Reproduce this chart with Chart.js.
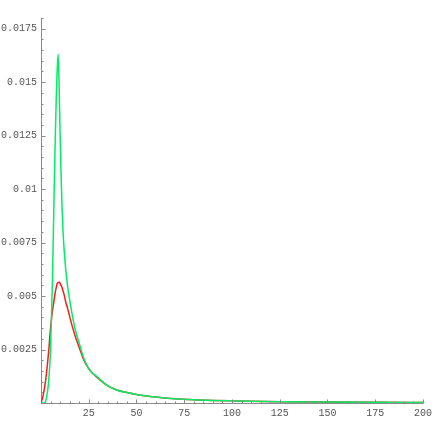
<!DOCTYPE html>
<html>
<head>
<meta charset="utf-8">
<script src="https://cdn.jsdelivr.net/npm/chart.js@4"></script>
<style>
  html, body { margin: 0; padding: 0; background: #fff; }
</style>
</head>
<body>
<canvas id="plot" width="436" height="436"></canvas>
<script>
// values
const xs = [0, 1, 2, 2.5, 3, 4, 5, 6, 6.5, 7, 7.5, 8, 8.5, 9, 9.5, 10, 10.5, 11, 11.5, 12, 13, 14, 16, 18, 20, 22, 25, 30, 35, 40, 45, 50, 60, 70, 80, 90, 100, 125, 150, 175, 200];
const greenY = [0, 0, 0.00002, 0.0001, 0.0003, 0.001, 0.0025, 0.0057, 0.0081, 0.0104, 0.0125, 0.0143, 0.0156, 0.0163, 0.0148, 0.0126, 0.0107, 0.0092, 0.0081, 0.0073, 0.0062, 0.0054, 0.0043, 0.0034, 0.0028, 0.0022, 0.0016, 0.00118, 0.0008, 0.0006, 0.00049, 0.0004, 0.00028, 0.0002, 0.00015, 0.00012, 0.0001, 0.00006, 0.000042, 0.00003, 0.000022];
const redY = [0, 0.0003, 0.0008, 0.0011, 0.0015, 0.0024, 0.0035, 0.0043, 0.0046, 0.0049, 0.0052, 0.0054, 0.0056, 0.00563, 0.00564, 0.0056, 0.0055, 0.0054, 0.00525, 0.0051, 0.0047, 0.0044, 0.0037, 0.0031, 0.0026, 0.0021, 0.0016, 0.00115, 0.0008, 0.0006, 0.00049, 0.0004, 0.00028, 0.0002, 0.00015, 0.00012, 0.0001, 0.00006, 0.000042, 0.00003, 0.000022];

const xTicks = [25, 50, 75, 100, 125, 150, 175, 200];
const yTicks = [0.0025, 0.005, 0.0075, 0.01, 0.0125, 0.015, 0.0175];

const axisGray = '#8a8a8a';

// Mathematica style tick marks: pointing into the plot, with minor ones
const tickMarks = {
  id: 'tickMarks',
  afterDraw(chart) {
    const c = chart.ctx, x = chart.scales.x, y = chart.scales.y;
    const x0 = Math.round(x.left) + 0.5, y0 = Math.round(y.bottom) + 0.5;
    c.save();
    c.strokeStyle = axisGray;
    c.lineWidth = 1;
    c.beginPath();
    for (let v = 5; v <= 200; v += 5) {
      const px = Math.round(x.getPixelForValue(v)) + 0.5;
      const len = v % 25 === 0 ? 4 : 2;
      c.moveTo(px, y0); c.lineTo(px, y0 - len);
    }
    for (let i = 1; i <= 36; i++) {
      const v = i * 0.0005;
      const py = Math.round(y.getPixelForValue(v)) + 0.5;
      const len = i % 5 === 0 ? 4 : 2;
      c.moveTo(x0, py); c.lineTo(x0 + len, py);
    }
    c.stroke();
    c.restore();
  }
};

const labelFont = { family: '"Liberation Mono", "DejaVu Sans Mono", monospace', size: 10 };

new Chart(document.getElementById('plot'), {
  type: 'line',
  data: {
    datasets: [
      {
        label: 'green',
        data: xs.map((x, i) => ({ x: x, y: greenY[i] })),
        borderColor: '#00ee66',
        borderWidth: 1.5,
        pointRadius: 0,
        cubicInterpolationMode: 'monotone',
        fill: false
      },
      {
        label: 'red',
        data: xs.map((x, i) => ({ x: x, y: redY[i] })),
        borderColor: '#ff1a1a',
        borderWidth: 1.5,
        pointRadius: 0,
        cubicInterpolationMode: 'monotone',
        fill: false
      }
    ]
  },
  options: {
    responsive: false,
    animation: false,
    layout: { padding: { top: 18, right: 11, left: 0, bottom: 0 } },
    plugins: { legend: { display: false }, tooltip: { enabled: false } },
    scales: {
      x: {
        type: 'linear',
        min: 0,
        max: 200,
        afterBuildTicks: s => { s.ticks = xTicks.map(v => ({ value: v })); },
        afterFit: s => { s.height = 33; },
        grid: { display: false, drawTicks: false },
        border: { color: axisGray, width: 1 },
        ticks: { color: '#555', font: labelFont, padding: 4, maxRotation: 0, autoSkip: false }
      },
      y: {
        type: 'linear',
        min: 0,
        max: 0.018,
        afterBuildTicks: s => { s.ticks = yTicks.map(v => ({ value: v })); },
        afterFit: s => { s.width = 41; },
        grid: { display: false, drawTicks: false },
        border: { color: axisGray, width: 1 },
        ticks: { color: '#555', font: labelFont, padding: 4, autoSkip: false, callback: v => String(v) }
      }
    }
  },
  plugins: [tickMarks]
});
</script>
</body>
</html>
